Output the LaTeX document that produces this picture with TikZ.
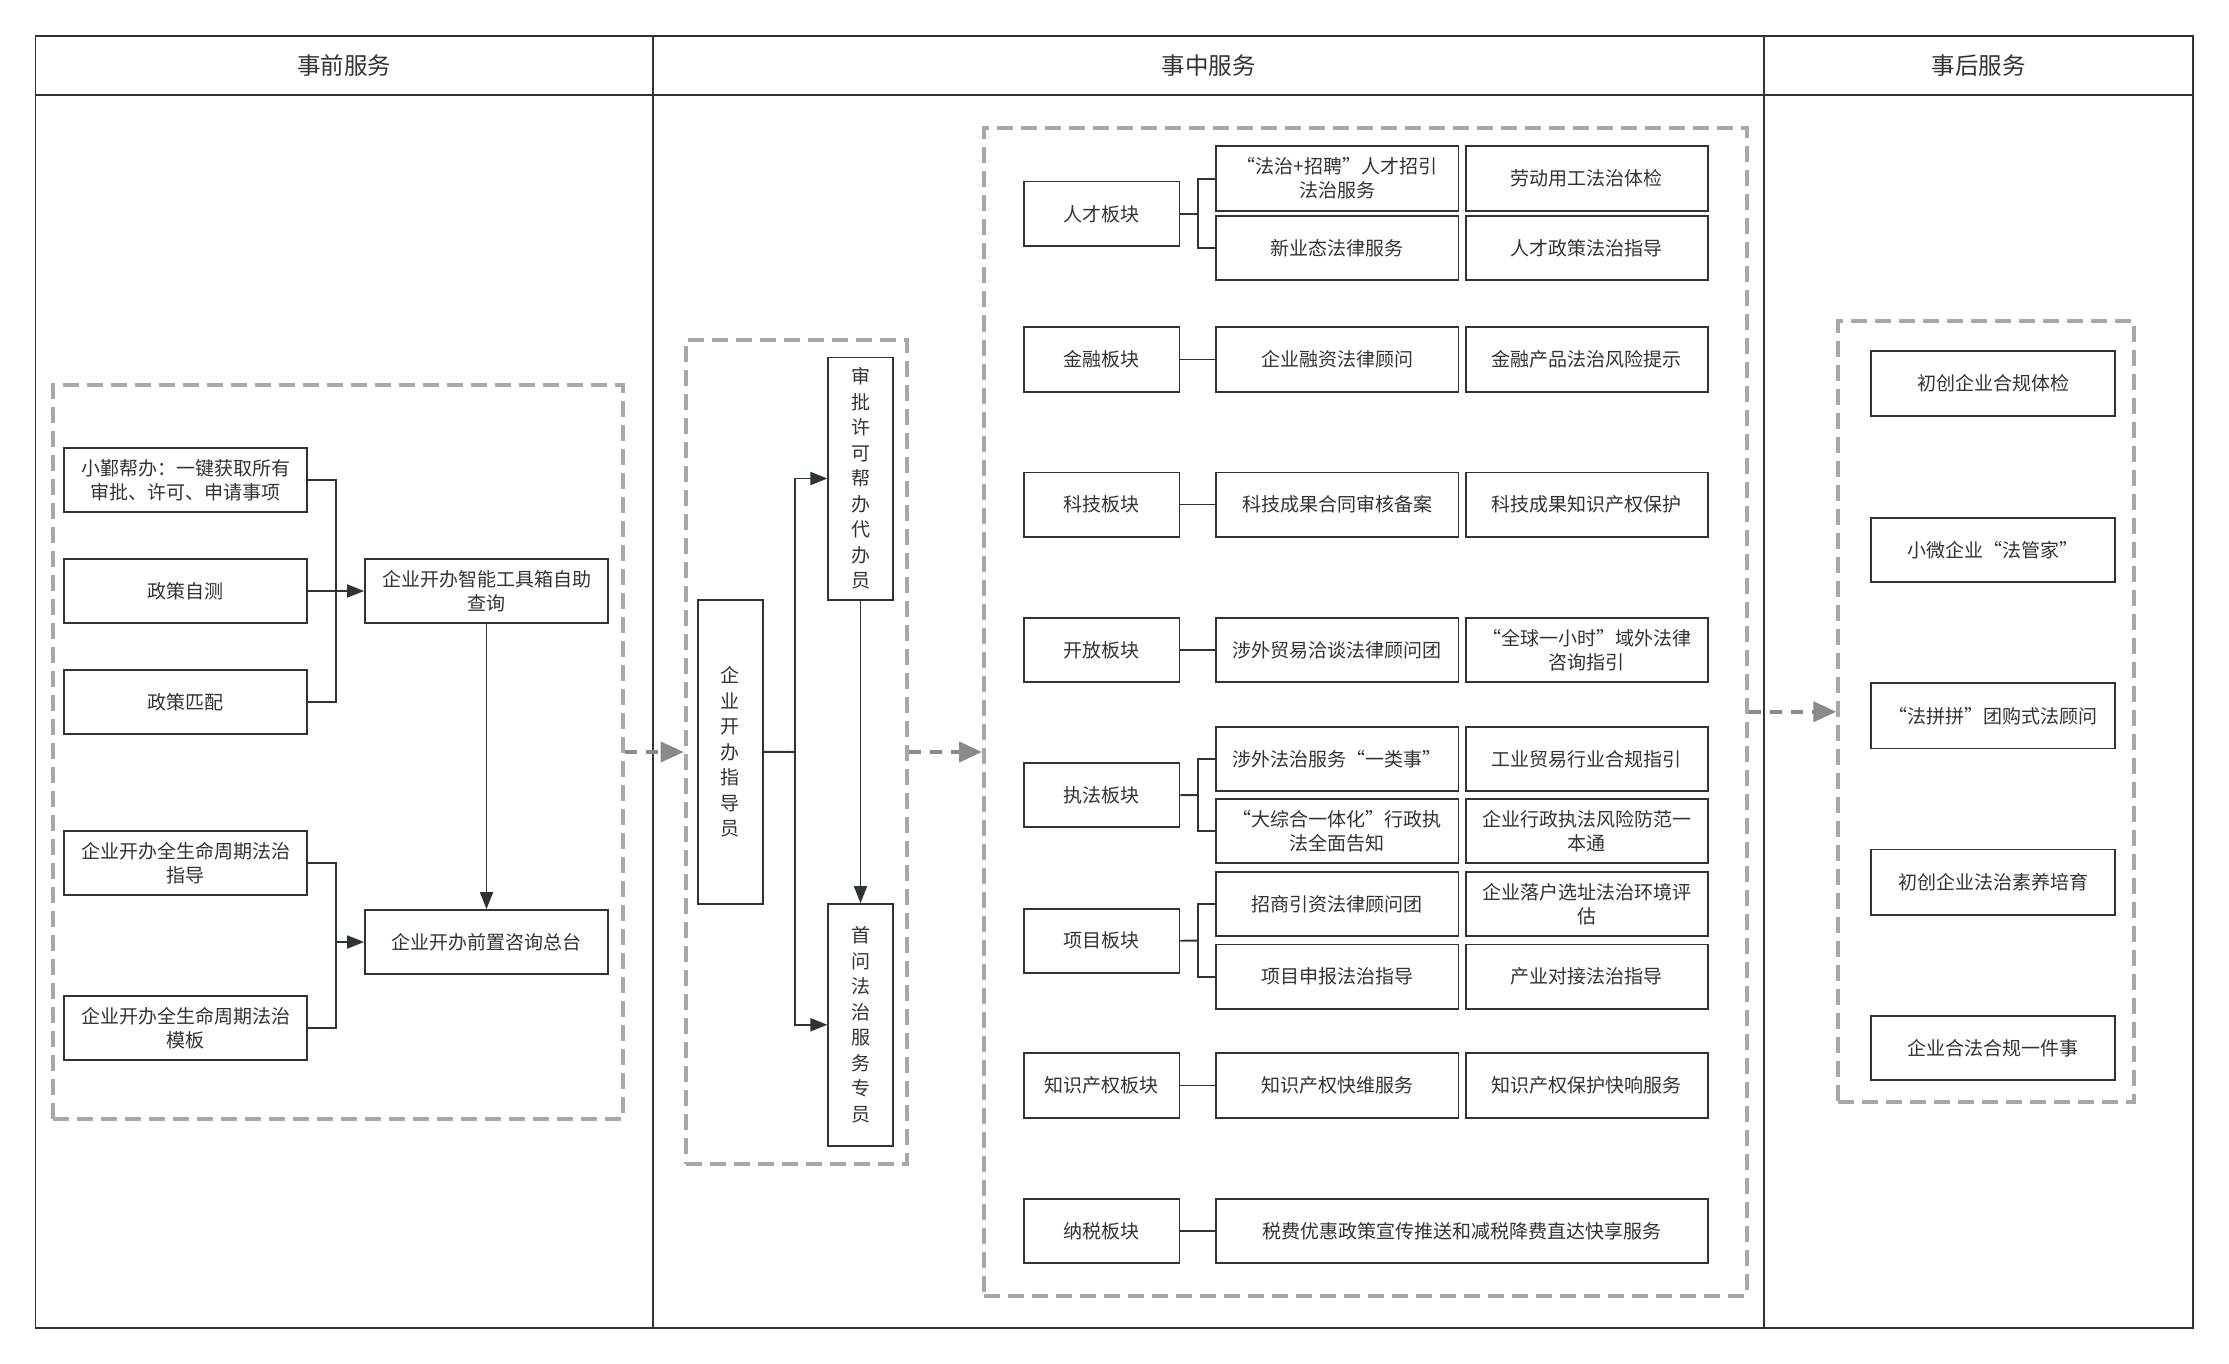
\documentclass[tikz,border=0pt]{standalone}
\usepackage{fontspec}
\newfontfamily\cjkfont{Noto Sans CJK SC}
\usetikzlibrary{arrows.meta}
\definecolor{linec}{HTML}{2D3436}
\definecolor{txtc}{HTML}{333333}
\definecolor{dashc}{HTML}{A8A8A8}
\definecolor{darrc}{HTML}{8A8A8A}
\newcommand\mkbox[7]{\node[#6, minimum width={(#4)-(#2)}, minimum height={(#5)-(#3)}] (#1) at ({((#2)+(#4))/2},{((#3)+(#5))/2}) {#7};}
\begin{document}
\begin{tikzpicture}[x=1pt,y=-1pt,
  box/.style={draw=linec, line width=1.8pt, fill=white, inner sep=0pt, align=center, text=txtc, font=\cjkfont\fontsize{19}{24}\selectfont},
  vbox/.style={box, font=\cjkfont\fontsize{19}{25.5}\selectfont},
  cell/.style={draw=linec, line width=1.8pt, inner sep=0pt, align=center, text=txtc, font=\cjkfont\fontsize{23.5}{28}\selectfont},
  grp/.style={draw=dashc, line width=4pt, dash pattern=on 16pt off 8pt, inner sep=0pt},
  conn/.style={draw=linec, line width=1.8pt},
  arr/.style={conn, -{Triangle[length=17pt,width=13pt]}},
  darr/.style={draw=darrc, line width=4pt, dash pattern=on 12pt off 9pt, -{Triangle[length=23pt,width=20pt]}},
]
\fill[white] (0,0) rectangle (2229,1364);
\useasboundingbox (0,0) rectangle (2229,1364);

% frame
\mkbox{h1}{35.5}{36}{652.7}{95}{cell}{事前服务}
\mkbox{h2}{652.7}{36}{1764.3}{95}{cell}{事中服务}
\mkbox{h3}{1764.3}{36}{2193}{95}{cell}{事后服务}
\mkbox{c1}{35.5}{95}{652.7}{1328}{cell}{}
\mkbox{c2}{652.7}{95}{1764.3}{1328}{cell}{}
\mkbox{c3}{1764.3}{95}{2193}{1328}{cell}{}

% left column
\mkbox{gL}{52.7}{385}{622.8}{1119}{grp}{}
\mkbox{lb1}{64}{448}{307}{512}{box}{小鄞帮办：一键获取所有\\审批、许可、申请事项}
\mkbox{lb2}{64}{559}{307}{623}{box}{政策自测}
\mkbox{lb3}{64}{670}{307}{734}{box}{政策匹配}
\mkbox{lb4}{64}{831}{307}{895}{box}{企业开办全生命周期法治\\指导}
\mkbox{lb5}{64}{996}{307}{1060}{box}{企业开办全生命周期法治\\模板}
\mkbox{tool}{365}{559}{608}{623}{box}{企业开办智能工具箱自助\\查询}
\mkbox{desk}{365}{910}{608}{974}{box}{企业开办前置咨询总台}
\coordinate (j1) at (335.7,591);
\coordinate (j2) at (335.7,942);
\draw[conn] (lb1.east) -| (j1);
\draw[conn] (lb3.east) -| (j1);
\draw[arr] (lb2.east) -- (tool.west);
\draw[conn] (lb4.east) -| (j2);
\draw[conn] (lb5.east) -| (j2);
\draw[arr] (j2) -- (desk.west);
\draw[arr] (tool.south) -- (desk.north);

% middle column, left group
\mkbox{gM}{685.7}{340}{906.7}{1164}{grp}{}
\mkbox{zd}{698}{599.7}{762.7}{904}{vbox}{企\\业\\开\\办\\指\\导\\员}
\mkbox{sp}{828.3}{357.4}{892.7}{599.7}{vbox}{审\\批\\许\\可\\帮\\办\\代\\办\\员}
\mkbox{sw}{828.3}{904}{892.7}{1145.6}{vbox}{首\\问\\法\\治\\服\\务\\专\\员}
\coordinate (j3) at (795,751.9);
\draw[conn] (zd.east) -- (j3);
\draw[arr] (j3) |- (sp.west);
\draw[arr] (j3) |- (sw.west);
\draw[arr] (sp.south) -- (sw.north);

% middle column, boards
\mkbox{gB}{984}{128}{1746.5}{1295.5}{grp}{}
% 人才
\mkbox{b1}{1024.3}{181.6}{1179.4}{246.2}{box}{人才板块}
\mkbox{s1a}{1216}{146.4}{1458.5}{211}{box}{“法治+招聘”人才招引\\法治服务}
\mkbox{s1b}{1465.6}{146.4}{1708}{211}{box}{劳动用工法治体检}
\mkbox{s1c}{1216}{216.4}{1458.5}{280.3}{box}{新业态法律服务}
\mkbox{s1d}{1465.6}{216.4}{1708}{280.3}{box}{人才政策法治指导}
% 金融
\mkbox{b2}{1024.3}{327}{1179.4}{392}{box}{金融板块}
\mkbox{s2a}{1216}{327}{1458.5}{392}{box}{企业融资法律顾问}
\mkbox{s2b}{1465.6}{327}{1708}{392}{box}{金融产品法治风险提示}
% 科技
\mkbox{b3}{1024.3}{472.4}{1179.4}{536.7}{box}{科技板块}
\mkbox{s3a}{1216}{472.4}{1458.5}{536.7}{box}{科技成果合同审核备案}
\mkbox{s3b}{1465.6}{472.4}{1708}{536.7}{box}{科技成果知识产权保护}
% 开放
\mkbox{b4}{1024.3}{617.8}{1179.4}{682.1}{box}{开放板块}
\mkbox{s4a}{1216}{617.8}{1458.5}{682.1}{box}{涉外贸易洽谈法律顾问团}
\mkbox{s4b}{1465.6}{617.8}{1708}{682.1}{box}{“全球一小时”域外法律\\咨询指引}
% 执法
\mkbox{b5}{1024.3}{762.9}{1179.4}{827.3}{box}{执法板块}
\mkbox{s5a}{1216}{727}{1458.5}{791}{box}{涉外法治服务“一类事”}
\mkbox{s5b}{1465.6}{727}{1708}{791}{box}{工业贸易行业合规指引}
\mkbox{s5c}{1216}{799.2}{1458.5}{863.3}{box}{“大综合一体化”行政执\\法全面告知}
\mkbox{s5d}{1465.6}{799.2}{1708}{863.3}{box}{企业行政执法风险防范一\\本通}
% 项目
\mkbox{b6}{1024.3}{908.6}{1179.4}{972.7}{box}{项目板块}
\mkbox{s6a}{1216}{871.8}{1458.5}{935.9}{box}{招商引资法律顾问团}
\mkbox{s6b}{1465.6}{871.8}{1708}{935.9}{box}{企业落户选址法治环境评\\估}
\mkbox{s6c}{1216}{944.5}{1458.5}{1009}{box}{项目申报法治指导}
\mkbox{s6d}{1465.6}{944.5}{1708}{1009}{box}{产业对接法治指导}
% 知识产权
\mkbox{b7}{1024.3}{1053}{1179.4}{1118}{box}{知识产权板块}
\mkbox{s7a}{1216}{1053}{1458.5}{1118}{box}{知识产权快维服务}
\mkbox{s7b}{1465.6}{1053}{1708}{1118}{box}{知识产权保护快响服务}
% 纳税
\mkbox{b8}{1024.3}{1199}{1179.4}{1263.2}{box}{纳税板块}
\mkbox{s8a}{1216}{1199}{1708}{1263.2}{box}{税费优惠政策宣传推送和减税降费直达快享服务}

\coordinate (k1) at (1197.8,213.9);
\coordinate (k5) at (1197.8,795.1);
\coordinate (k6) at (1197.8,940.6);
\draw[conn] (s1a.west) -| (k1);
\draw[conn] (s1c.west) -| (k1);
\draw[conn] (b1.east) -- (k1);
\draw[conn] (s5a.west) -| (k5);
\draw[conn] (s5c.west) -| (k5);
\draw[conn] (b5.east) -- (k5);
\draw[conn] (s6a.west) -| (k6);
\draw[conn] (s6c.west) -| (k6);
\draw[conn] (b6.east) -- (k6);
\draw[conn] (b2.east) -- (s2a.west);
\draw[conn] (b3.east) -- (s3a.west);
\draw[conn] (b4.east) -- (s4a.west);
\draw[conn] (b7.east) -- (s7a.west);
\draw[conn] (b8.east) -- (s8a.west);

% right column
\mkbox{gR}{1838.3}{321.4}{2134.3}{1102.2}{grp}{}
\mkbox{r1}{1871.3}{351.3}{2114.7}{415.6}{box}{初创企业合规体检}
\mkbox{r2}{1871.3}{517.9}{2114.7}{581.7}{box}{小微企业“法管家”}
\mkbox{r3}{1871.3}{683.2}{2114.7}{748.4}{box}{“法拼拼”团购式法顾问}
\mkbox{r4}{1871.3}{849.5}{2114.7}{914.6}{box}{初创企业法治素养培育}
\mkbox{r5}{1871.3}{1015.7}{2114.7}{1080.3}{box}{企业合法合规一件事}

% dashed flow arrows
\draw[darr] (gL.east) -- (gM.west);
\draw[darr] (gM.east) -- (gM.east -| gB.west);
\draw[darr] (gB.east) -- (gB.east -| gR.west);
\end{tikzpicture}
\end{document}
